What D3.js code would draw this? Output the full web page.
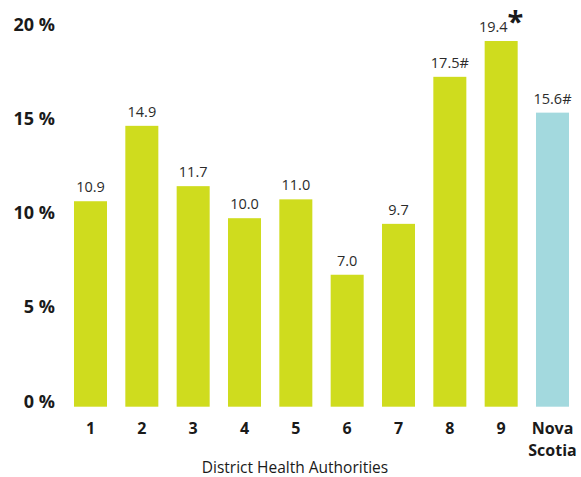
<!DOCTYPE html>
<html><head><meta charset="utf-8">
<script src="https://cdn.jsdelivr.net/npm/d3@7"></script>
<style>body{margin:0;background:#fff}svg{display:block}</style>
</head><body>
<svg id="chart" width="581" height="477"></svg>
<script>
const categories = ["1","2","3","4","5","6","7","8","9","Nova Scotia"];
const values = [10.9, 14.9, 11.7, 10.0, 11.0, 7.0, 9.7, 17.5, 19.4, 15.6];
const valueLabels = ["10.9","14.9","11.7","10.0","11.0","7.0","9.7","17.5#","19.4","15.6#"];
const valueMarks = ["","","","","","","","","*",""];
const yTicks = [0, 5, 10, 15, 20];
const yTickLabels = ["0 %","5 %","10 %","15 %","20 %"];
const xTitle = "District Health Authorities";

const svg = d3.select("#chart");
const font = "'Open Sans', sans-serif";
const x = d3.scaleBand().domain(categories).range([64.83, 578.17]).paddingInner(0.357).paddingOuter(0.1785);
const y = d3.scaleLinear().domain([0, 20]).range([406.7, 29.7]);

// y tick labels
svg.append("g").selectAll("text").data(yTicks).join("text")
  .attr("x", 55).attr("y", d => y(d) + 1)
  .attr("text-anchor", "end")
  .attr("font-family", font).attr("font-weight", "bold").attr("font-size", "18px")
  .attr("fill", "#1a1a1a")
  .text((d, i) => yTickLabels[i]);

// bars
svg.append("g").selectAll("rect").data(values).join("rect")
  .attr("x", (d, i) => x(categories[i]))
  .attr("width", x.bandwidth())
  .attr("y", d => y(d))
  .attr("height", d => y(0) - y(d))
  .attr("fill", (d, i) => i === categories.length - 1 ? "#a3d9de" : "#cfdc1e");

// value labels
const vl = svg.append("g").selectAll("text").data(values).join("text")
  .attr("x", (d, i) => x(categories[i]) + x.bandwidth() / 2)
  .attr("y", d => y(d) - 9)
  .attr("text-anchor", "middle")
  .attr("font-family", font).attr("font-size", "14.5px")
  .attr("fill", "#2b2b2b");
vl.each(function(d, i) {
  const t = d3.select(this);
  t.append("tspan").text(valueLabels[i]);
  if (valueMarks[i]) {
    t.append("tspan").attr("font-size", "29px").attr("font-weight", "bold")
      .attr("fill", "#1a1a1a").text(valueMarks[i]);
  }
});

// x labels (one text per line)
const xg = svg.append("g");
categories.forEach(d => {
  d.split(" ").forEach((p, j) => {
    xg.append("text")
      .attr("x", x(d) + x.bandwidth() / 2)
      .attr("y", 434 + j * 22)
      .attr("text-anchor", "middle")
      .attr("font-family", font).attr("font-weight", "bold").attr("font-size", "16px")
      .attr("fill", "#1a1a1a")
      .text(p);
  });
});

// axis title
svg.append("text")
  .attr("x", 295).attr("y", 473)
  .attr("text-anchor", "middle")
  .attr("font-family", font).attr("font-size", "15.5px")
  .attr("fill", "#1a1a1a")
  .text(xTitle);
</script>
</body></html>
